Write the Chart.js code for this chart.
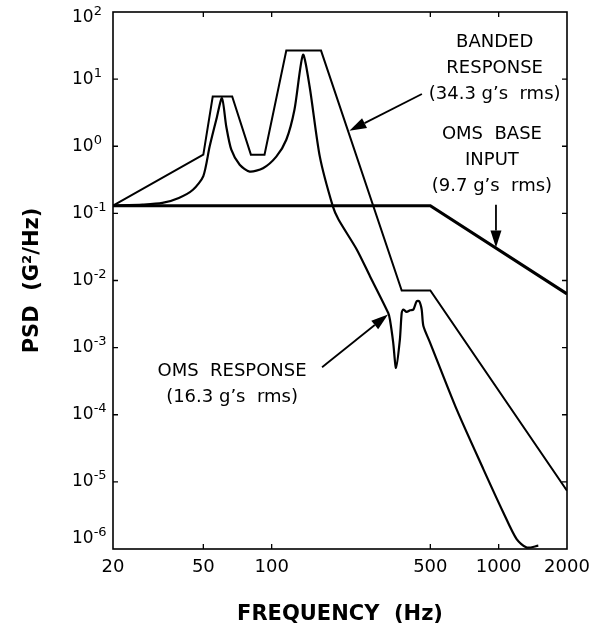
<!DOCTYPE html>
<html>
<head>
<meta charset="utf-8">
<script src="https://cdn.jsdelivr.net/npm/chart.js@4.4.1/dist/chart.umd.min.js"></script>
<style>
  body { margin: 0; background: #fff; }
</style>
</head>
<body>
<canvas id="psdChart" width="606" height="631"></canvas>
<script>
// axis ticks
const freqTicks = [20, 50, 100, 500, 1000, 2000];
const psdExponents = [2, 1, 0, -1, -2, -3, -4, -5, -6];

// OMS base input (9.7 g's rms)
const baseFreq = [20, 500, 2000];
const basePsd = [0.13, 0.13, 0.0063];

// banded response envelope (34.3 g's rms)
const bandFreq = [20, 50, 55, 67, 81, 93, 116, 165, 374, 500, 2000];
const bandPsd = [0.13, 0.75, 5.5, 5.5, 0.75, 0.75, 26.6, 26.6, 0.0071, 0.0071, 7.4e-6];

// OMS response (16.3 g's rms)
const omsFreq = [20, 27, 33, 39, 45, 50, 53.3, 57, 60.4, 63.1, 66.4, 72.3, 80, 91.6, 104.8, 116,
  126, 137.4, 147, 163, 186, 197, 237, 271, 326, 332, 343, 353, 367, 374, 380, 393, 407, 421,
  435, 447, 458, 466, 498, 653, 856, 1048, 1200, 1330, 1495];
const omsPsd = [0.13, 0.135, 0.143, 0.17, 0.225, 0.36, 0.99, 2.48, 5.2, 1.97, 0.89, 0.53, 0.42, 0.47, 0.70, 1.25,
  3.5, 23, 7.7, 0.70, 0.127, 0.081, 0.029, 0.0116, 0.0033, 0.0026, 0.0012, 0.0005, 0.0013, 0.0033, 0.0037, 0.0034, 0.0036, 0.0037,
  0.0049, 0.0049, 0.0037, 0.0021, 0.0012, 1.2e-4, 1.55e-5, 3.5e-6, 1.4e-6, 1.05e-6, 1.12e-6];

// callouts: text lines, anchor of first line, arrow tail and tip (freq, psd)
const noteLines = [
  ['BANDED', 'RESPONSE', '(34.3 g\u2019s  rms)'],
  ['OMS  BASE', 'INPUT', '(9.7 g\u2019s  rms)'],
  ['OMS  RESPONSE', '(16.3 g\u2019s  rms)']
];
const noteAt = [[960, 35.8], [934, 1.48], [66.9, 4.44e-4]];
const arrowFrom = [[459, 6.0], [973, 0.135], [166.7, 5.1e-4]];
const arrowTo = [[220, 1.7], [973, 0.031], [325.5, 0.00312]];

function toPoints(xs, ys) {
    return xs.map((f, i) => ({x: f, y: ys[i]}));
}

const framePlugin = {
    id: 'framePlugin',
    afterDraw(chart) {
        const ctx = chart.ctx;
        const a = chart.chartArea;
        const x = chart.scales.x;
        const y = chart.scales.y;
        ctx.save();
        ctx.strokeStyle = '#000';
        ctx.fillStyle = '#000';
        ctx.lineWidth = 1.6;
        ctx.strokeRect(a.left, a.top, a.right - a.left, a.bottom - a.top);

        // inward tick marks
        ctx.lineWidth = 1.3;
        ctx.beginPath();
        freqTicks.slice(1, -1).forEach(v => {
            const px = x.getPixelForValue(v);
            ctx.moveTo(px, a.bottom); ctx.lineTo(px, a.bottom - 5);
            ctx.moveTo(px, a.top); ctx.lineTo(px, a.top + 5);
        });
        psdExponents.slice(1, -1).forEach(e => {
            const py = y.getPixelForValue(Math.pow(10, e));
            ctx.moveTo(a.left, py); ctx.lineTo(a.left + 5, py);
            ctx.moveTo(a.right, py); ctx.lineTo(a.right - 5, py);
        });
        ctx.stroke();

        // y labels as 10 with raised exponent
        ctx.textAlign = 'left';
        ctx.textBaseline = 'middle';
        psdExponents.forEach((e, i) => {
            let py = y.getPixelForValue(Math.pow(10, e));
            if (i === 0) py += 6;
            if (i === psdExponents.length - 1) py -= 10;
            const lx = a.left - 41;
            ctx.font = '17px "DejaVu Sans"';
            ctx.fillText('10', lx, py);
            const w = ctx.measureText('10').width;
            ctx.font = '13px "DejaVu Sans"';
            ctx.fillText(String(e), lx + w, py - 6);
        });

        // callout text
        ctx.textAlign = 'center';
        ctx.font = '18px "DejaVu Sans"';
        noteLines.forEach((lines, i) => {
            const cx = x.getPixelForValue(noteAt[i][0]);
            const cy = y.getPixelForValue(noteAt[i][1]);
            lines.forEach((t, j) => ctx.fillText(t, cx, cy + j * 26));
        });

        // arrows
        ctx.lineWidth = 1.8;
        arrowFrom.forEach((p, i) => {
            const x0 = x.getPixelForValue(p[0]), y0 = y.getPixelForValue(p[1]);
            const x1 = x.getPixelForValue(arrowTo[i][0]), y1 = y.getPixelForValue(arrowTo[i][1]);
            const ang = Math.atan2(y1 - y0, x1 - x0);
            const len = 17, hw = 5.5;
            const bx = x1 - len * Math.cos(ang), by = y1 - len * Math.sin(ang);
            ctx.beginPath();
            ctx.moveTo(x0, y0);
            ctx.lineTo(bx, by);
            ctx.stroke();
            ctx.beginPath();
            ctx.moveTo(x1, y1);
            ctx.lineTo(bx + hw * Math.sin(ang), by - hw * Math.cos(ang));
            ctx.lineTo(bx - hw * Math.sin(ang), by + hw * Math.cos(ang));
            ctx.closePath();
            ctx.fill();
        });
        ctx.restore();
    }
};

const ctx = document.getElementById('psdChart').getContext('2d');
const psdChart = new Chart(ctx, {
    type: 'scatter',
    data: {
        datasets: [{
            label: 'OMS base input',
            data: toPoints(baseFreq, basePsd),
            showLine: true,
            borderColor: '#000',
            borderWidth: 3.2,
            pointRadius: 0,
            tension: 0
        }, {
            label: 'Banded response',
            data: toPoints(bandFreq, bandPsd),
            showLine: true,
            borderColor: '#000',
            borderWidth: 2,
            pointRadius: 0,
            tension: 0
        }, {
            label: 'OMS response',
            data: toPoints(omsFreq, omsPsd),
            showLine: true,
            borderColor: '#000',
            borderWidth: 2.2,
            pointRadius: 0,
            tension: 0.25
        }]
    },
    options: {
        responsive: false,
        animation: false,
        layout: {padding: {left: 20, top: 12, right: 39, bottom: 4}},
        plugins: {legend: {display: false}, tooltip: {enabled: false}},
        scales: {
            x: {
                type: 'logarithmic',
                min: 20,
                max: 2000,
                afterBuildTicks: s => { s.ticks = freqTicks.map(v => ({value: v})); },
                afterFit: s => { s.height = 78; },
                grid: {display: false, drawTicks: false},
                border: {display: false},
                ticks: {
                    autoSkip: false,
                    maxRotation: 0,
                    padding: 8,
                    color: '#000',
                    font: {family: 'DejaVu Sans', size: 18},
                    callback: v => String(v)
                },
                title: {
                    display: true,
                    text: 'FREQUENCY  (Hz)',
                    color: '#000',
                    padding: 0,
                    font: {family: 'DejaVu Sans', size: 21, weight: 'bold'}
                }
            },
            y: {
                type: 'logarithmic',
                min: 1e-6,
                max: 100,
                afterBuildTicks: s => { s.ticks = psdExponents.map(e => ({value: Math.pow(10, e)})); },
                afterFit: s => { s.width = 93; },
                grid: {display: false, drawTicks: false},
                border: {display: false},
                ticks: {display: false},
                title: {
                    display: true,
                    text: 'PSD  (G\u00b2/Hz)',
                    color: '#000',
                    padding: 0,
                    font: {family: 'DejaVu Sans', size: 21, weight: 'bold'}
                }
            }
        }
    },
    plugins: [framePlugin]
});
</script>
</body>
</html>
